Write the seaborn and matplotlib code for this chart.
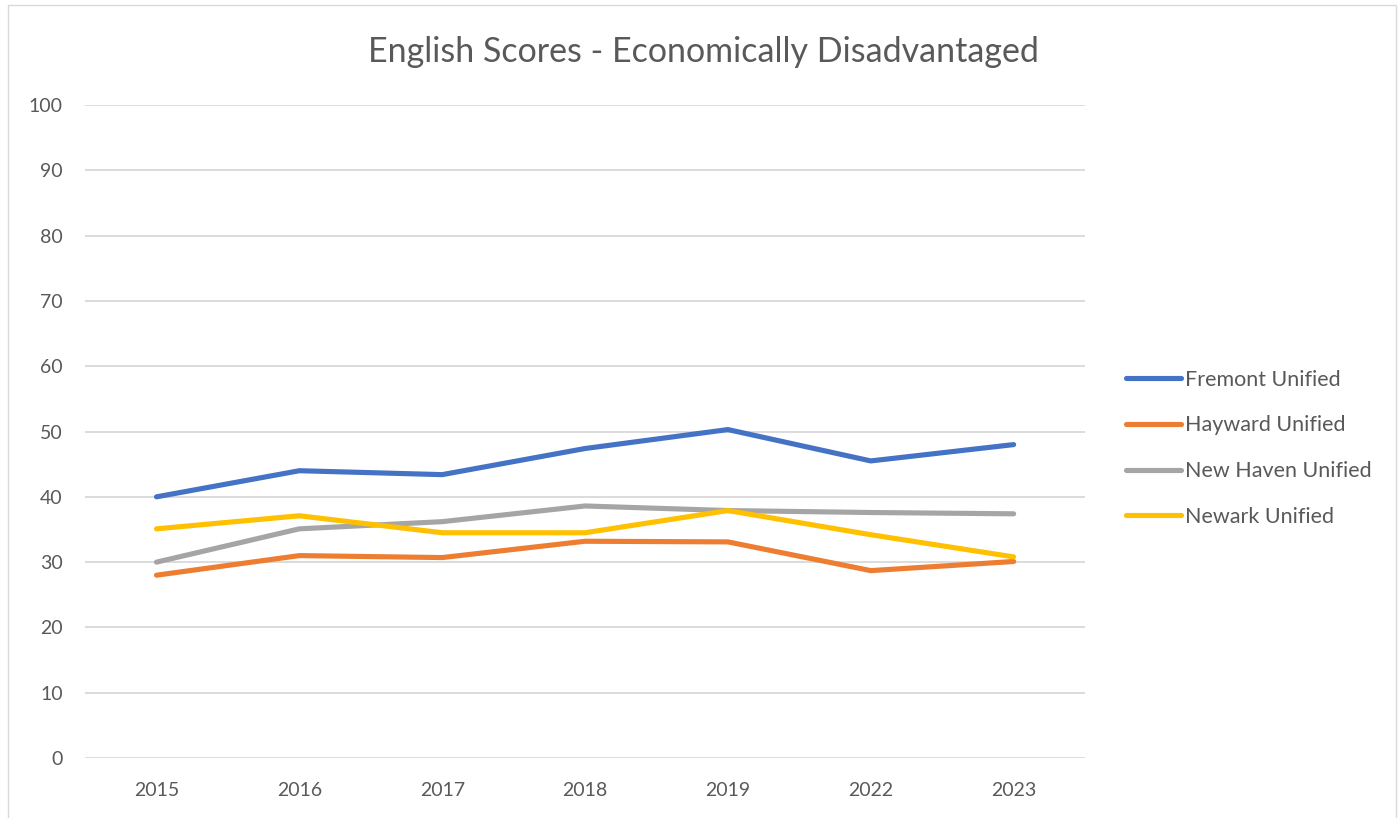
import numpy as np
import pandas as pd
import matplotlib; matplotlib.use("Agg"); import matplotlib.pyplot as plt
import seaborn as sns

years = ["2015", "2016", "2017", "2018", "2019", "2022", "2023"]
fremont = [40.0, 44.0, 43.4, 47.4, 50.3, 45.5, 48.0]
hayward = [28.0, 31.0, 30.7, 33.2, 33.1, 28.7, 30.1]
new_haven = [30.0, 35.1, 36.2, 38.6, 37.9, 37.6, 37.4]
newark = [35.1, 37.1, 34.5, 34.5, 37.9, 34.2, 30.8]
districts = ["Fremont Unified", "Hayward Unified", "New Haven Unified", "Newark Unified"]
colors = ["#4472C4", "#ED7D31", "#A5A5A5", "#FFC000"]

df = pd.DataFrame({"year": years * 4,
                   "score": fremont + hayward + new_haven + newark,
                   "district": np.repeat(districts, len(years))})

sns.set_style("white")
plt.rcParams["font.family"] = ["Lato", "DejaVu Sans"]
txt = "#595959"

fig = plt.figure(figsize=(13.99, 8.18), dpi=100)
ax = fig.add_axes([0.0608, 0.0733, 0.7148, 0.7983])
sns.lineplot(data=df, x="year", y="score", hue="district", palette=colors,
             linewidth=3.7, ax=ax, legend=False, solid_capstyle="round")

ax.set_xlim(-0.5, len(years) - 0.5)
ax.set_ylim(0, 100)
ax.set_yticks(range(0, 101, 10))
ax.yaxis.grid(True, color="#D9D9D9", linewidth=1.3)
ax.set_axisbelow(True)
for s in ax.spines.values():
    s.set_visible(False)
ax.tick_params(axis="both", length=0, labelsize=14, labelcolor=txt)
ax.tick_params(axis="y", pad=16)
ax.tick_params(axis="x", pad=17)
ax.set_xlabel(""); ax.set_ylabel("")

fig.text(0.503, 0.937, "English Scores - Economically Disadvantaged",
         ha="center", va="center", fontsize=24.5, color=txt)

handles = [plt.Line2D([], [], color=c, linewidth=3.7, solid_capstyle="round") for c in colors]
leg = fig.legend(handles, districts, loc="center left", bbox_to_anchor=(0.791, 0.452),
                 frameon=False, fontsize=15.5, handlelength=2.55, handletextpad=0.2,
                 labelspacing=1.2)
for t in leg.get_texts():
    t.set_color(txt)

# chart border
fig.patches.append(plt.Rectangle((0.006, -0.01), 0.992, 1.004, transform=fig.transFigure,
                                 fill=False, edgecolor="#D9D9D9", linewidth=1))

fig.savefig("out.png", dpi=100)
